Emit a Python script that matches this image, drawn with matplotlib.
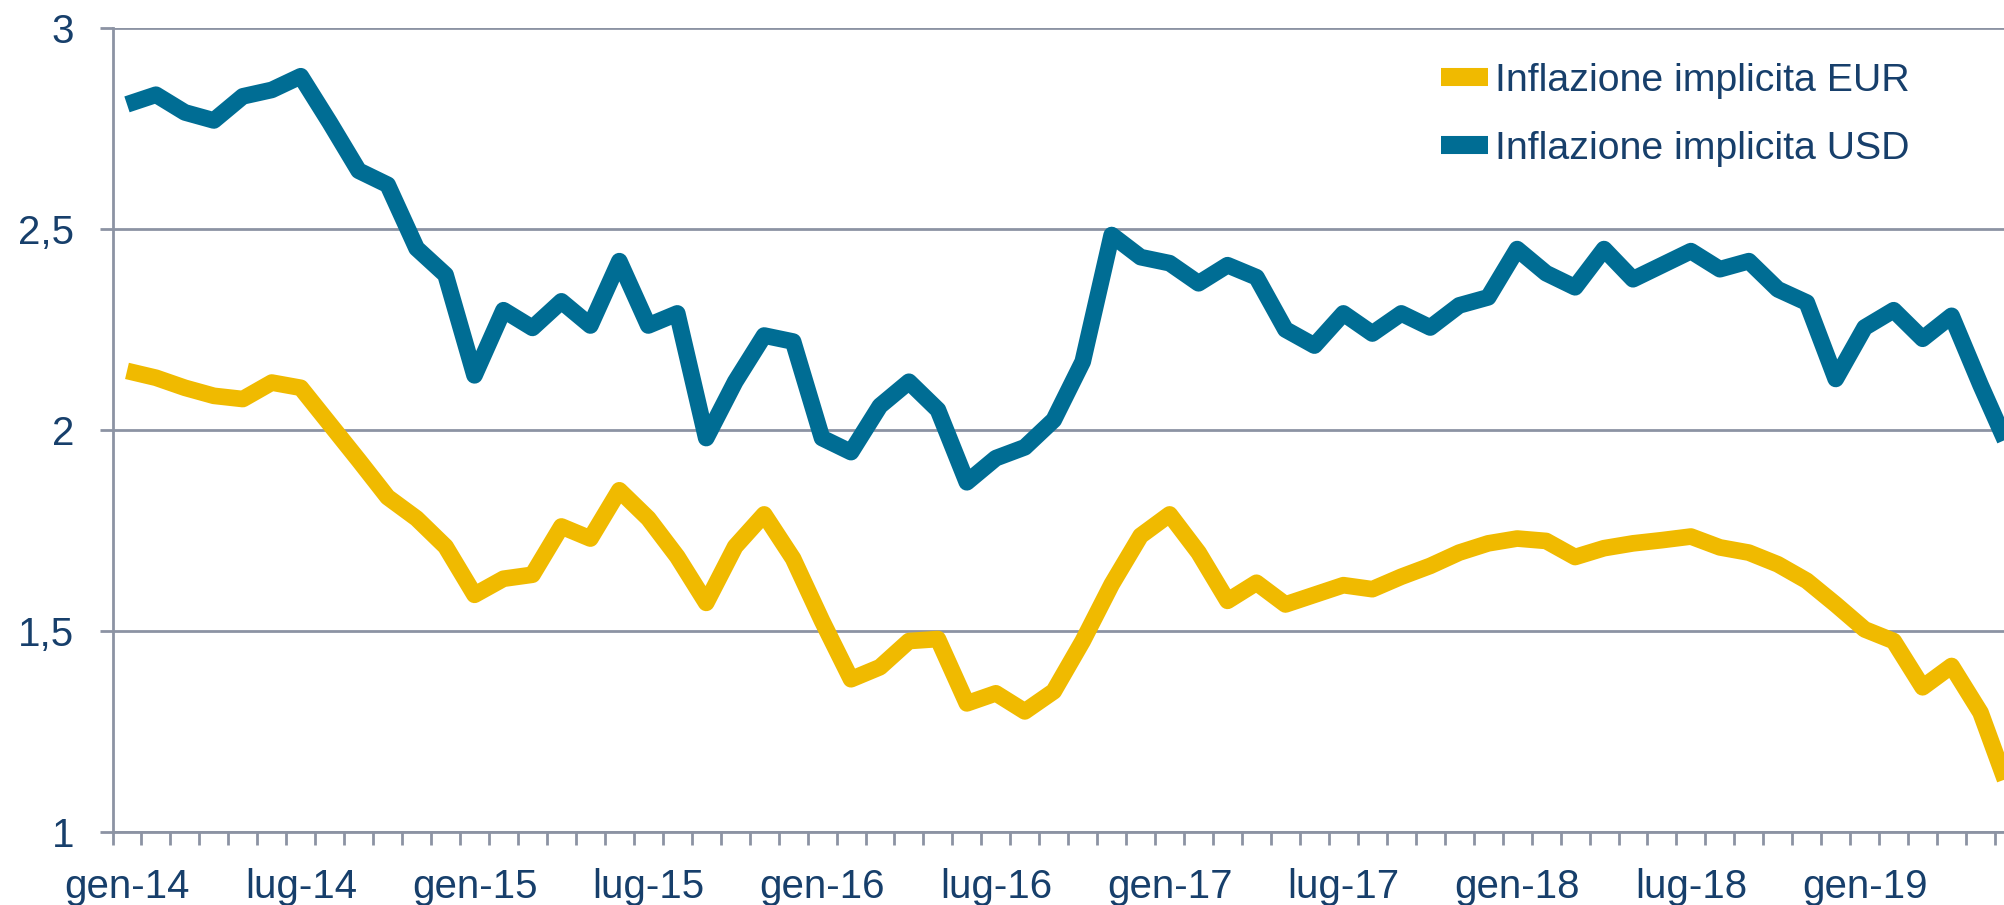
import matplotlib
matplotlib.use("Agg")
import matplotlib.pyplot as plt
from matplotlib.lines import Line2D
import numpy as np

months_it = ["gen", "feb", "mar", "apr", "mag", "giu", "lug", "ago", "set", "ott", "nov", "dic"]
n_months = 66  # gen-14 .. giu-19 (last point lies just past the cropped right edge)
month_labels = [f"{months_it[i % 12]}-{14 + i // 12}" for i in range(n_months)]

usd = [2.81, 2.834, 2.79, 2.77, 2.83, 2.846, 2.88, 2.765, 2.645, 2.61,
       2.452, 2.386, 2.136, 2.298, 2.254, 2.32, 2.26, 2.42, 2.26, 2.29,
       1.98, 2.12, 2.235, 2.22, 1.98, 1.945, 2.06, 2.12, 2.05, 1.87,
       1.93, 1.957, 2.025, 2.17, 2.485, 2.43, 2.415, 2.365, 2.41, 2.38,
       2.25, 2.21, 2.29, 2.24, 2.29, 2.255, 2.31, 2.33, 2.45, 2.39,
       2.355, 2.45, 2.375, 2.41, 2.445, 2.40, 2.42, 2.35, 2.317, 2.127,
       2.255, 2.298, 2.227, 2.284, 2.112, 1.95]

eur = [2.147, 2.13, 2.105, 2.085, 2.077, 2.118, 2.105, 2.015, 1.925, 1.833,
       1.78, 1.71, 1.59, 1.63, 1.64, 1.76, 1.73, 1.85, 1.78, 1.685,
       1.57, 1.71, 1.79, 1.68, 1.525, 1.38, 1.41, 1.475, 1.48, 1.32,
       1.345, 1.30, 1.35, 1.475, 1.616, 1.737, 1.79, 1.695, 1.575, 1.62,
       1.566, 1.59, 1.614, 1.604, 1.635, 1.662, 1.695, 1.718, 1.73, 1.724,
       1.684, 1.706, 1.718, 1.726, 1.735, 1.708, 1.695, 1.666, 1.625, 1.566,
       1.504, 1.475, 1.36, 1.413, 1.297, 1.10]

series_names = ["Inflazione implicita EUR", "Inflazione implicita USD"]
y_ticks = [1, 1.5, 2, 2.5, 3]
y_tick_labels = ["1", "1,5", "2", "2,5", "3"]

c_eur = "#F0BA00"
c_usd = "#006D94"
c_grid = "#8C93A3"
c_text = "#173F6B"

plt.rcParams['font.family'] = ['Liberation Sans', 'DejaVu Sans']

W, H = 2004, 905
fig = plt.figure(figsize=(W / 100, H / 100), dpi=100)
left_px, top_px, bottom_px = 112.5, 28, 832
ax = fig.add_axes([left_px / W, 1 - bottom_px / H, 1 - left_px / W, (bottom_px - top_px) / H])

x = np.arange(n_months)
lw = 12
ax.plot(x, eur, color=c_eur, lw=lw, solid_joinstyle='round', solid_capstyle='butt', zorder=3)
ax.plot(x, usd, color=c_usd, lw=lw, solid_joinstyle='round', solid_capstyle='butt', zorder=3)

ax.set_yticks(y_ticks)
ax.set_yticklabels(y_tick_labels)
ax.yaxis.grid(True, color=c_grid, lw=2)
ax.set_axisbelow(True)

major = list(range(0, n_months, 6))
ax.set_xticks(major)
ax.set_xticklabels([month_labels[i] for i in major])
ax.set_xticks(np.arange(-0.5, n_months, 1.0), minor=True)

# limits after ticks (set_xticks may widen the view)
ax.set_ylim(1, 3)
ax.set_xlim(-0.5, 64.81)

ax.tick_params(axis='x', which='major', length=0, pad=26, labelsize=29, labelcolor=c_text)
ax.tick_params(axis='x', which='minor', length=9, width=2, color=c_grid, direction='out')
ax.tick_params(axis='y', which='major', length=9.4, width=2, color=c_grid, pad=18,
               labelsize=29, labelcolor=c_text)

for s in ['top', 'right']:
    ax.spines[s].set_visible(False)
for s in ['left', 'bottom']:
    ax.spines[s].set_color(c_grid)
    ax.spines[s].set_linewidth(2)

handles = [Line2D([0], [0], color=c_eur, lw=13, solid_capstyle='butt'),
           Line2D([0], [0], color=c_usd, lw=13, solid_capstyle='butt')]
leg = ax.legend(handles, series_names, loc='upper right', bbox_to_anchor=(0.95, 0.957),
                frameon=False, fontsize=28.3, handlelength=1.2, handletextpad=0.17,
                labelspacing=0.83, borderpad=0, borderaxespad=0, labelcolor=c_text)

fig.savefig("out.png", dpi=100, facecolor="white")
